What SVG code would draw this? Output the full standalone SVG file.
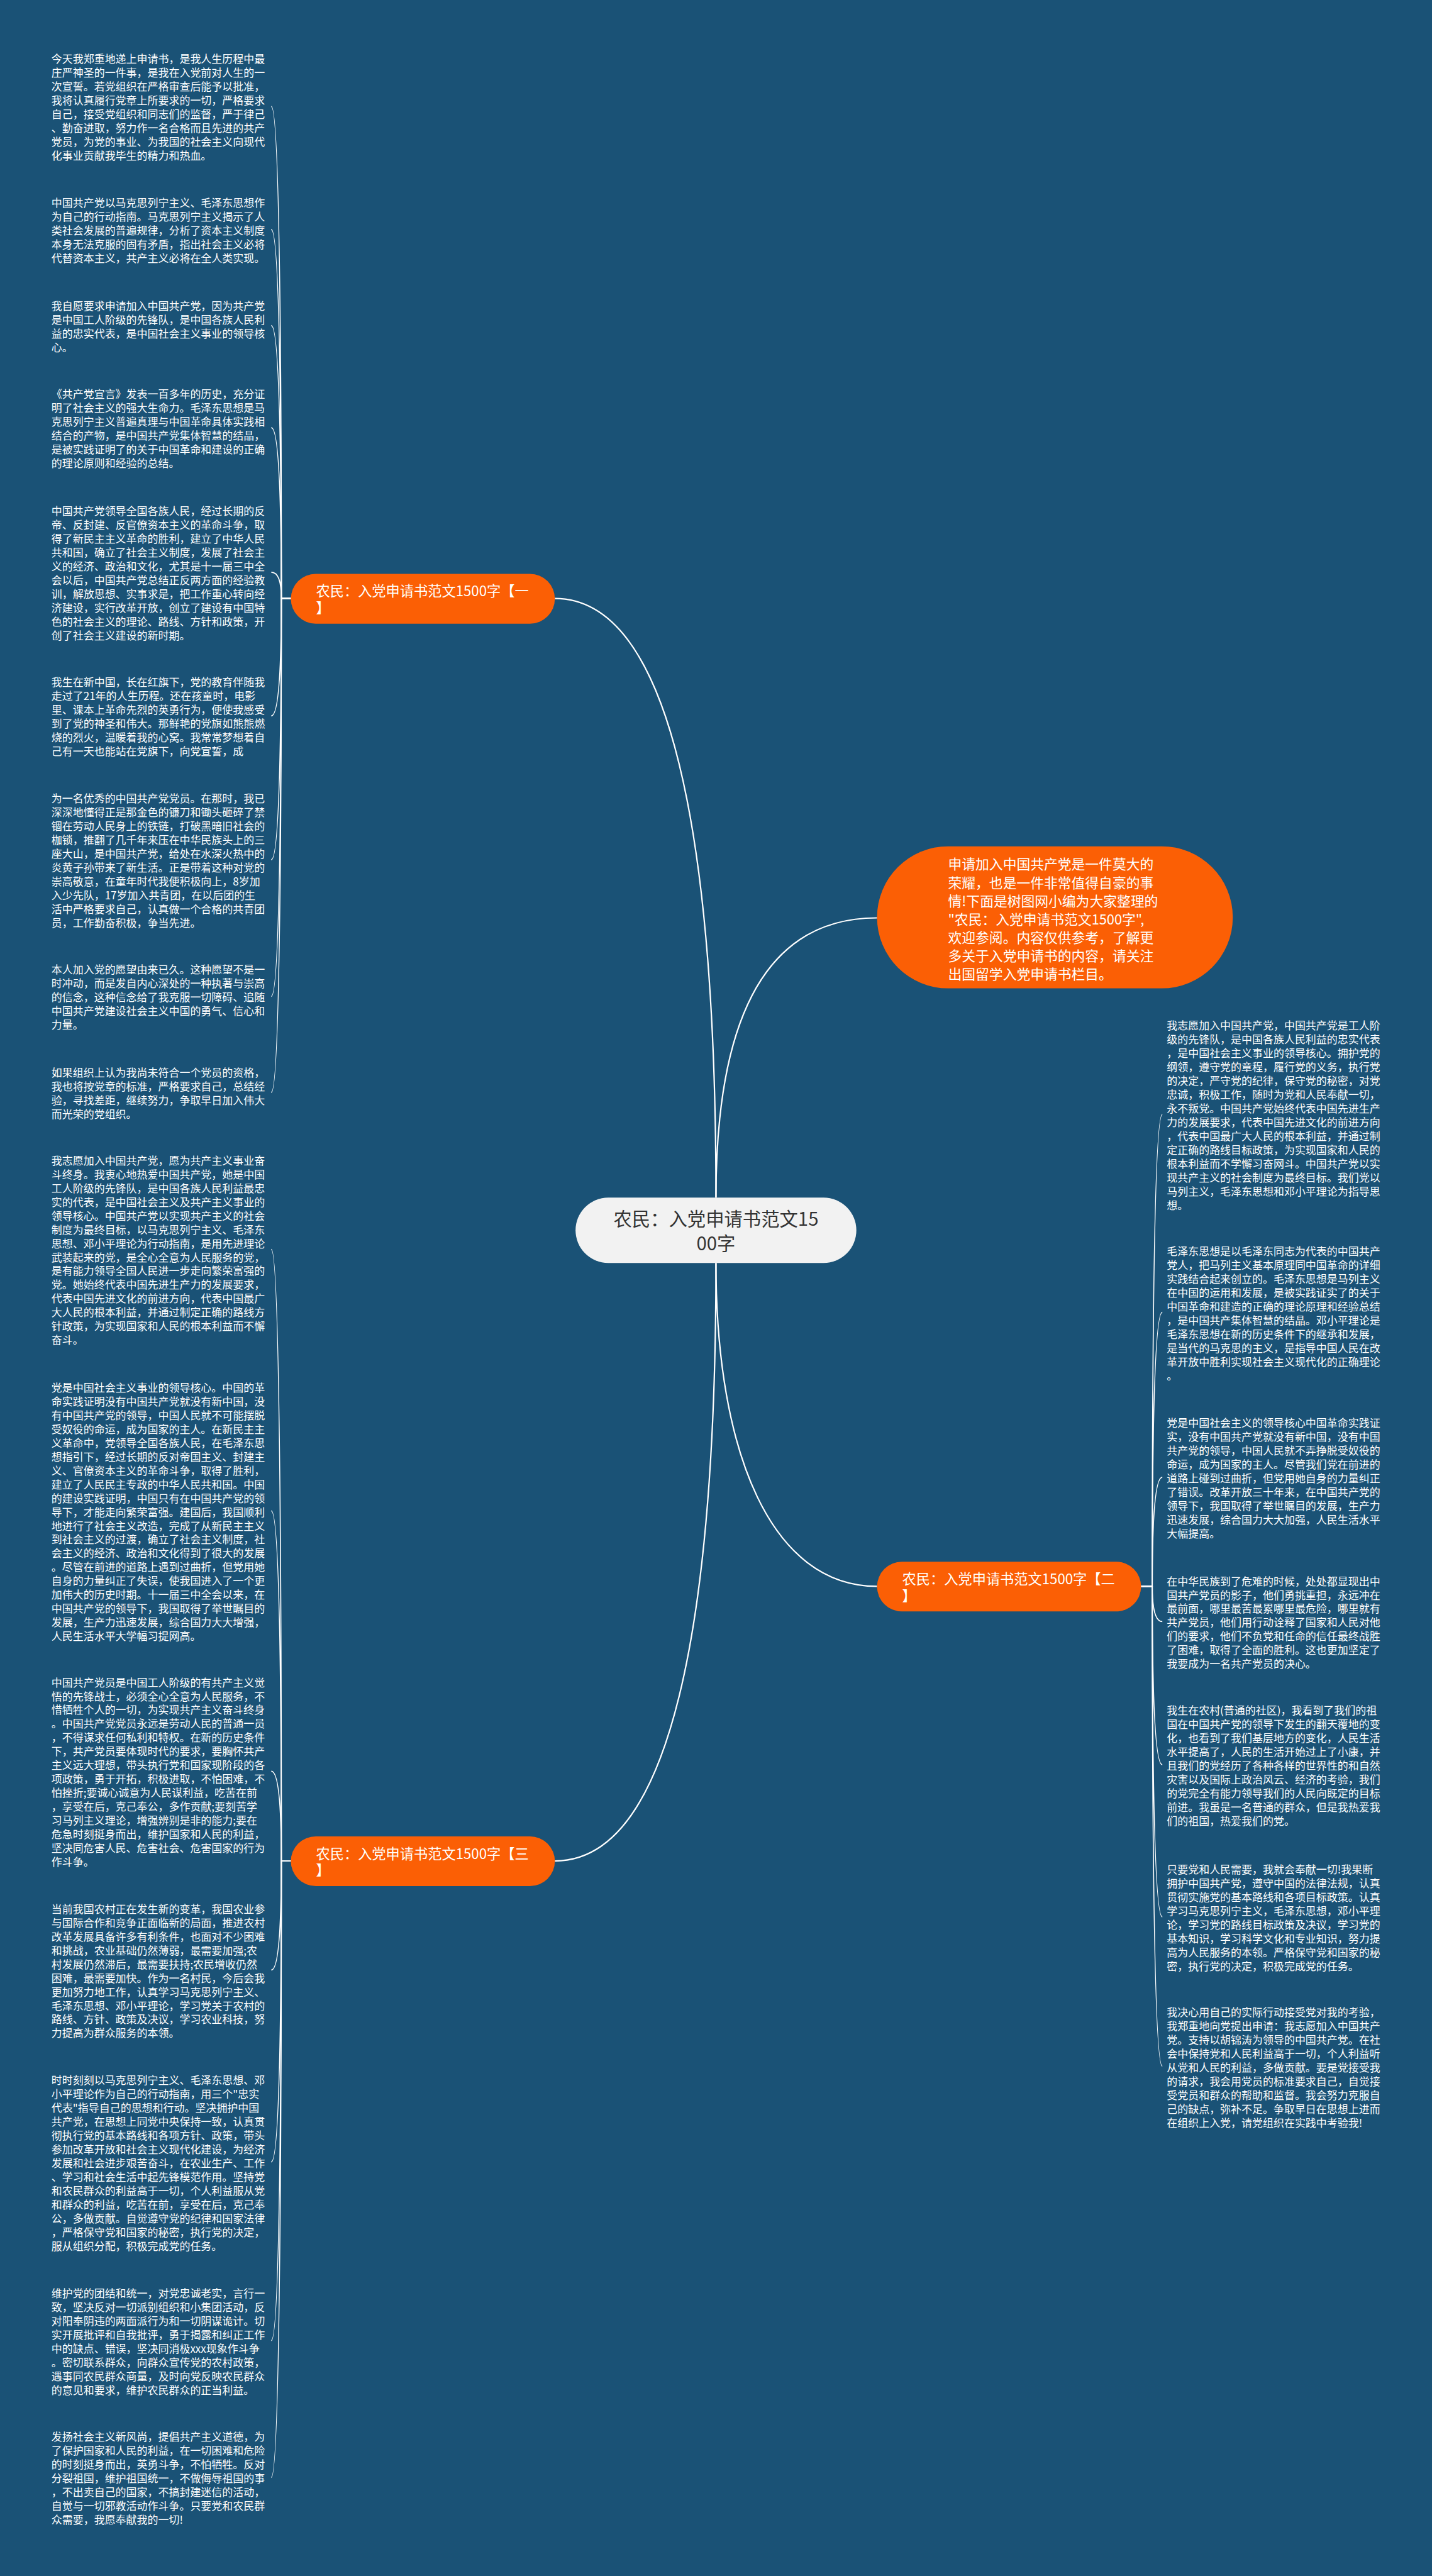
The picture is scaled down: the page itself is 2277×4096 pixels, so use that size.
<svg xmlns="http://www.w3.org/2000/svg" width="2277" height="4096" viewBox="0 0 2277 4096">
<style>
.bg{fill:#1a5276}
.t{font-family:"Noto Sans CJK SC","Microsoft YaHei","Noto Sans",sans-serif;fill:#ffffff;font-size:19.1px;dominant-baseline:central}
.lb{fill:#fb5f05}
.lt{font-family:"Noto Sans CJK SC","Microsoft YaHei","Noto Sans",sans-serif;fill:#ffffff;font-size:25px;dominant-baseline:central}
.bt{font-family:"Noto Sans CJK SC","Microsoft YaHei","Noto Sans",sans-serif;fill:#ffffff;font-size:24.5px;dominant-baseline:central}
.cn{fill:#f2f2f2}
.ct{font-family:"Noto Sans CJK SC","Microsoft YaHei","Noto Sans",sans-serif;fill:#333333;font-size:33px;dominant-baseline:central;text-anchor:middle}
.c{fill:none;stroke:#ffffff;stroke-width:2.5}
.k{fill:none;stroke:#ffffff;stroke-width:2}
</style>
<rect class="bg" x="0" y="0" width="2277" height="4096"/>
<g transform="scale(0.8894)">
<g id="connectors">
<path class="c" d="M1280,2141 C1280,1500 1200,1070 992,1070"/>
<path class="c" d="M1280,2141 C1280,1800 1380,1641 1568,1641"/>
<path class="c" d="M1280,2258 C1280,2600 1380,2836 1568,2836"/>
<path class="c" d="M1280,2258 C1280,2900 1200,3327 992,3327"/>
<path class="k" d="M520,1070 H503 Q503,190.5 485,190.5"/>
<path class="k" d="M520,1070 H503 Q503,410.4 485,410.4"/>
<path class="k" d="M520,1070 H503 Q503,582 485,582"/>
<path class="k" d="M520,1070 H503 Q503,764.8 485,764.8"/>
<path class="k" d="M520,1070 H503 Q503,1023 485,1023"/>
<path class="k" d="M520,1070 H503 Q503,1279.8 485,1279.8"/>
<path class="k" d="M520,1070 H503 Q503,1537 485,1537"/>
<path class="k" d="M520,1070 H503 Q503,1781.4 485,1781.4"/>
<path class="k" d="M520,1070 H503 Q503,1953 485,1953"/>
<path class="k" d="M520,3327 H503 Q503,2233.6 485,2233.6"/>
<path class="k" d="M520,3327 H503 Q503,2701 485,2701"/>
<path class="k" d="M520,3327 H503 Q503,3166.6 485,3166.6"/>
<path class="k" d="M520,3327 H503 Q503,3522 485,3522"/>
<path class="k" d="M520,3327 H503 Q503,3865 485,3865"/>
<path class="k" d="M520,3327 H503 Q503,4184.5 485,4184.5"/>
<path class="k" d="M520,3327 H503 Q503,4429 485,4429"/>
<path class="k" d="M2040,2836 H2060 Q2060,1992.6 2078,1992.6"/>
<path class="k" d="M2040,2836 H2060 Q2060,2346 2078,2346"/>
<path class="k" d="M2040,2836 H2060 Q2060,2641 2078,2641"/>
<path class="k" d="M2040,2836 H2060 Q2060,2899 2078,2899"/>
<path class="k" d="M2040,2836 H2060 Q2060,3155 2078,3155"/>
<path class="k" d="M2040,2836 H2060 Q2060,3427 2078,3427"/>
<path class="k" d="M2040,2836 H2060 Q2060,3694 2078,3694"/>
</g>
<g id="center">
<rect class="cn" x="1029" y="2141" width="502" height="117" rx="58.5"/>
<text class="ct"><tspan x="1280" y="2177">农民：入党申请书范文15</tspan><tspan x="1280" y="2221">00字</tspan></text>
</g>
<g id="summary">
<rect class="lb" x="1568" y="1513" width="636" height="254" rx="127"/>
<text class="bt"><tspan x="1695" y="1543">申请加入中国共产党是一件莫大的</tspan><tspan x="1695" dy="32.8">荣耀，也是一件非常值得自豪的事</tspan><tspan x="1695" dy="32.8">情!下面是树图网小编为大家整理的</tspan><tspan x="1695" dy="32.8">"农民：入党申请书范文1500字",</tspan><tspan x="1695" dy="32.8">欢迎参阅。内容仅供参考，了解更</tspan><tspan x="1695" dy="32.8">多关于入党申请书的内容，请关注</tspan><tspan x="1695" dy="32.8">出国留学入党申请书栏目。</tspan></text>
</g>
<g id="label1">
<rect class="lb" x="520" y="1026" width="472" height="89" rx="44.5"/>
<text class="lt"><tspan x="565" y="1055">农民：入党申请书范文1500字【一</tspan><tspan x="565" y="1085">】</tspan></text>
</g>
<g id="label2">
<rect class="lb" x="1568" y="2792" width="472" height="89" rx="44.5"/>
<text class="lt"><tspan x="1613" y="2821">农民：入党申请书范文1500字【二</tspan><tspan x="1613" y="2851">】</tspan></text>
</g>
<g id="label3">
<rect class="lb" x="520" y="3283" width="472" height="89" rx="44.5"/>
<text class="lt"><tspan x="565" y="3312">农民：入党申请书范文1500字【三</tspan><tspan x="565" y="3342">】</tspan></text>
</g>
<g id="b1"><text class="t"><tspan x="92" y="104">今天我郑重地递上申请书，是我人生历程中最</tspan><tspan x="92" dy="24.7">庄严神圣的一件事，是我在入党前对人生的一</tspan><tspan x="92" dy="24.7">次宣誓。若党组织在严格审查后能予以批准，</tspan><tspan x="92" dy="24.7">我将认真履行党章上所要求的一切，严格要求</tspan><tspan x="92" dy="24.7">自己，接受党组织和同志们的监督，严于律己</tspan><tspan x="92" dy="24.7">、勤奋进取，努力作一名合格而且先进的共产</tspan><tspan x="92" dy="24.7">党员，为党的事业、为我国的社会主义向现代</tspan><tspan x="92" dy="24.7">化事业贡献我毕生的精力和热血。</tspan></text></g>
<g id="b2"><text class="t"><tspan x="92" y="361">中国共产党以马克思列宁主义、毛泽东思想作</tspan><tspan x="92" dy="24.7">为自己的行动指南。马克思列宁主义揭示了人</tspan><tspan x="92" dy="24.7">类社会发展的普遍规律，分析了资本主义制度</tspan><tspan x="92" dy="24.7">本身无法克服的固有矛盾，指出社会主义必将</tspan><tspan x="92" dy="24.7">代替资本主义，共产主义必将在全人类实现。</tspan></text></g>
<g id="b3"><text class="t"><tspan x="92" y="545">我自愿要求申请加入中国共产党，因为共产党</tspan><tspan x="92" dy="24.7">是中国工人阶级的先锋队，是中国各族人民利</tspan><tspan x="92" dy="24.7">益的忠实代表，是中国社会主义事业的领导核</tspan><tspan x="92" dy="24.7">心。</tspan></text></g>
<g id="b4"><text class="t"><tspan x="92" y="703">《共产党宣言》发表一百多年的历史，充分证</tspan><tspan x="92" dy="24.7">明了社会主义的强大生命力。毛泽东思想是马</tspan><tspan x="92" dy="24.7">克思列宁主义普遍真理与中国革命具体实践相</tspan><tspan x="92" dy="24.7">结合的产物，是中国共产党集体智慧的结晶，</tspan><tspan x="92" dy="24.7">是被实践证明了的关于中国革命和建设的正确</tspan><tspan x="92" dy="24.7">的理论原则和经验的总结。</tspan></text></g>
<g id="b5"><text class="t"><tspan x="92" y="912">中国共产党领导全国各族人民，经过长期的反</tspan><tspan x="92" dy="24.7">帝、反封建、反官僚资本主义的革命斗争，取</tspan><tspan x="92" dy="24.7">得了新民主主义革命的胜利，建立了中华人民</tspan><tspan x="92" dy="24.7">共和国，确立了社会主义制度，发展了社会主</tspan><tspan x="92" dy="24.7">义的经济、政治和文化，尤其是十一届三中全</tspan><tspan x="92" dy="24.7">会以后，中国共产党总结正反两方面的经验教</tspan><tspan x="92" dy="24.7">训，解放思想、实事求是，把工作重心转向经</tspan><tspan x="92" dy="24.7">济建设，实行改革开放，创立了建设有中国特</tspan><tspan x="92" dy="24.7">色的社会主义的理论、路线、方针和政策，开</tspan><tspan x="92" dy="24.7">创了社会主义建设的新时期。</tspan></text></g>
<g id="b6"><text class="t"><tspan x="92" y="1218">我生在新中国，长在红旗下，党的教育伴随我</tspan><tspan x="92" dy="24.7">走过了21年的人生历程。还在孩童时，电影</tspan><tspan x="92" dy="24.7">里、课本上革命先烈的英勇行为，便使我感受</tspan><tspan x="92" dy="24.7">到了党的神圣和伟大。那鲜艳的党旗如熊熊燃</tspan><tspan x="92" dy="24.7">烧的烈火，温暖着我的心窝。我常常梦想着自</tspan><tspan x="92" dy="24.7">己有一天也能站在党旗下，向党宣誓，成</tspan></text></g>
<g id="b7"><text class="t"><tspan x="92" y="1426">为一名优秀的中国共产党党员。在那时，我已</tspan><tspan x="92" dy="24.7">深深地懂得正是那金色的镰刀和锄头砸碎了禁</tspan><tspan x="92" dy="24.7">锢在劳动人民身上的铁链，打破黑暗旧社会的</tspan><tspan x="92" dy="24.7">枷锁，推翻了几千年来压在中华民族头上的三</tspan><tspan x="92" dy="24.7">座大山，是中国共产党，给处在水深火热中的</tspan><tspan x="92" dy="24.7">炎黄子孙带来了新生活。正是带着这种对党的</tspan><tspan x="92" dy="24.7">崇高敬意，在童年时代我便积极向上，8岁加</tspan><tspan x="92" dy="24.7">入少先队，17岁加入共青团，在以后团的生</tspan><tspan x="92" dy="24.7">活中严格要求自己，认真做一个合格的共青团</tspan><tspan x="92" dy="24.7">员，工作勤奋积极，争当先进。</tspan></text></g>
<g id="b8"><text class="t"><tspan x="92" y="1732">本人加入党的愿望由来已久。这种愿望不是一</tspan><tspan x="92" dy="24.7">时冲动，而是发自内心深处的一种执著与崇高</tspan><tspan x="92" dy="24.7">的信念，这种信念给了我克服一切障碍、追随</tspan><tspan x="92" dy="24.7">中国共产党建设社会主义中国的勇气、信心和</tspan><tspan x="92" dy="24.7">力量。</tspan></text></g>
<g id="b9"><text class="t"><tspan x="92" y="1916">如果组织上认为我尚未符合一个党员的资格，</tspan><tspan x="92" dy="24.7">我也将按党章的标准，严格要求自己，总结经</tspan><tspan x="92" dy="24.7">验，寻找差距，继续努力，争取早日加入伟大</tspan><tspan x="92" dy="24.7">而光荣的党组织。</tspan></text></g>
<g id="b10"><text class="t"><tspan x="92" y="2073">我志愿加入中国共产党，愿为共产主义事业奋</tspan><tspan x="92" dy="24.7">斗终身。我衷心地热爱中国共产党，她是中国</tspan><tspan x="92" dy="24.7">工人阶级的先锋队，是中国各族人民利益最忠</tspan><tspan x="92" dy="24.7">实的代表，是中国社会主义及共产主义事业的</tspan><tspan x="92" dy="24.7">领导核心。中国共产党以实现共产主义的社会</tspan><tspan x="92" dy="24.7">制度为最终目标，以马克思列宁主义、毛泽东</tspan><tspan x="92" dy="24.7">思想、邓小平理论为行动指南，是用先进理论</tspan><tspan x="92" dy="24.7">武装起来的党，是全心全意为人民服务的党，</tspan><tspan x="92" dy="24.7">是有能力领导全国人民进一步走向繁荣富强的</tspan><tspan x="92" dy="24.7">党。她始终代表中国先进生产力的发展要求，</tspan><tspan x="92" dy="24.7">代表中国先进文化的前进方向，代表中国最广</tspan><tspan x="92" dy="24.7">大人民的根本利益，并通过制定正确的路线方</tspan><tspan x="92" dy="24.7">针政策，为实现国家和人民的根本利益而不懈</tspan><tspan x="92" dy="24.7">奋斗。</tspan></text></g>
<g id="b11"><text class="t"><tspan x="92" y="2479">党是中国社会主义事业的领导核心。中国的革</tspan><tspan x="92" dy="24.7">命实践证明没有中国共产党就没有新中国，没</tspan><tspan x="92" dy="24.7">有中国共产党的领导，中国人民就不可能摆脱</tspan><tspan x="92" dy="24.7">受奴役的命运，成为国家的主人。在新民主主</tspan><tspan x="92" dy="24.7">义革命中，党领导全国各族人民，在毛泽东思</tspan><tspan x="92" dy="24.7">想指引下，经过长期的反对帝国主义、封建主</tspan><tspan x="92" dy="24.7">义、官僚资本主义的革命斗争，取得了胜利，</tspan><tspan x="92" dy="24.7">建立了人民民主专政的中华人民共和国。中国</tspan><tspan x="92" dy="24.7">的建设实践证明，中国只有在中国共产党的领</tspan><tspan x="92" dy="24.7">导下，才能走向繁荣富强。建国后，我国顺利</tspan><tspan x="92" dy="24.7">地进行了社会主义改造，完成了从新民主主义</tspan><tspan x="92" dy="24.7">到社会主义的过渡，确立了社会主义制度，社</tspan><tspan x="92" dy="24.7">会主义的经济、政治和文化得到了很大的发展</tspan><tspan x="92" dy="24.7">。尽管在前进的道路上遇到过曲折，但党用她</tspan><tspan x="92" dy="24.7">自身的力量纠正了失误，使我国进入了一个更</tspan><tspan x="92" dy="24.7">加伟大的历史时期。十一届三中全会以来，在</tspan><tspan x="92" dy="24.7">中国共产党的领导下，我国取得了举世瞩目的</tspan><tspan x="92" dy="24.7">发展，生产力迅速发展，综合国力大大增强，</tspan><tspan x="92" dy="24.7">人民生活水平大学幅习提网高。</tspan></text></g>
<g id="b12"><text class="t"><tspan x="92" y="3006">中国共产党员是中国工人阶级的有共产主义觉</tspan><tspan x="92" dy="24.7">悟的先锋战士，必须全心全意为人民服务，不</tspan><tspan x="92" dy="24.7">惜牺牲个人的一切，为实现共产主义奋斗终身</tspan><tspan x="92" dy="24.7">。中国共产党党员永远是劳动人民的普通一员</tspan><tspan x="92" dy="24.7">，不得谋求任何私利和特权。在新的历史条件</tspan><tspan x="92" dy="24.7">下，共产党员要体现时代的要求，要胸怀共产</tspan><tspan x="92" dy="24.7">主义远大理想，带头执行党和国家现阶段的各</tspan><tspan x="92" dy="24.7">项政策，勇于开拓，积极进取，不怕困难，不</tspan><tspan x="92" dy="24.7">怕挫折;要诚心诚意为人民谋利益，吃苦在前</tspan><tspan x="92" dy="24.7">，享受在后，克己奉公，多作贡献;要刻苦学</tspan><tspan x="92" dy="24.7">习马列主义理论，增强辨别是非的能力;要在</tspan><tspan x="92" dy="24.7">危急时刻挺身而出，维护国家和人民的利益，</tspan><tspan x="92" dy="24.7">坚决同危害人民、危害社会、危害国家的行为</tspan><tspan x="92" dy="24.7">作斗争。</tspan></text></g>
<g id="b13"><text class="t"><tspan x="92" y="3411">当前我国农村正在发生新的变革，我国农业参</tspan><tspan x="92" dy="24.7">与国际合作和竞争正面临新的局面，推进农村</tspan><tspan x="92" dy="24.7">改革发展具备许多有利条件，也面对不少困难</tspan><tspan x="92" dy="24.7">和挑战，农业基础仍然薄弱，最需要加强;农</tspan><tspan x="92" dy="24.7">村发展仍然滞后，最需要扶持;农民增收仍然</tspan><tspan x="92" dy="24.7">困难，最需要加快。作为一名村民，今后会我</tspan><tspan x="92" dy="24.7">更加努力地工作，认真学习马克思列宁主义、</tspan><tspan x="92" dy="24.7">毛泽东思想、邓小平理论，学习党关于农村的</tspan><tspan x="92" dy="24.7">路线、方针、政策及决议，学习农业科技，努</tspan><tspan x="92" dy="24.7">力提高为群众服务的本领。</tspan></text></g>
<g id="b14"><text class="t"><tspan x="92" y="3717">时时刻刻以马克思列宁主义、毛泽东思想、邓</tspan><tspan x="92" dy="24.7">小平理论作为自己的行动指南，用三个"忠实</tspan><tspan x="92" dy="24.7">代表"指导自己的思想和行动。坚决拥护中国</tspan><tspan x="92" dy="24.7">共产党，在思想上同党中央保持一致，认真贯</tspan><tspan x="92" dy="24.7">彻执行党的基本路线和各项方针、政策，带头</tspan><tspan x="92" dy="24.7">参加改革开放和社会主义现代化建设，为经济</tspan><tspan x="92" dy="24.7">发展和社会进步艰苦奋斗，在农业生产、工作</tspan><tspan x="92" dy="24.7">、学习和社会生活中起先锋模范作用。坚持党</tspan><tspan x="92" dy="24.7">和农民群众的利益高于一切，个人利益服从党</tspan><tspan x="92" dy="24.7">和群众的利益，吃苦在前，享受在后，克己奉</tspan><tspan x="92" dy="24.7">公，多做贡献。自觉遵守党的纪律和国家法律</tspan><tspan x="92" dy="24.7">，严格保守党和国家的秘密，执行党的决定，</tspan><tspan x="92" dy="24.7">服从组织分配，积极完成党的任务。</tspan></text></g>
<g id="b15"><text class="t"><tspan x="92" y="4098">维护党的团结和统一，对党忠诚老实，言行一</tspan><tspan x="92" dy="24.7">致，坚决反对一切派别组织和小集团活动，反</tspan><tspan x="92" dy="24.7">对阳奉阴违的两面派行为和一切阴谋诡计。切</tspan><tspan x="92" dy="24.7">实开展批评和自我批评，勇于揭露和纠正工作</tspan><tspan x="92" dy="24.7">中的缺点、错误，坚决同消极xxx现象作斗争</tspan><tspan x="92" dy="24.7">。密切联系群众，向群众宣传党的农村政策，</tspan><tspan x="92" dy="24.7">遇事同农民群众商量，及时向党反映农民群众</tspan><tspan x="92" dy="24.7">的意见和要求，维护农民群众的正当利益。</tspan></text></g>
<g id="b16"><text class="t"><tspan x="92" y="4355">发扬社会主义新风尚，提倡共产主义道德，为</tspan><tspan x="92" dy="24.7">了保护国家和人民的利益，在一切困难和危险</tspan><tspan x="92" dy="24.7">的时刻挺身而出，英勇斗争，不怕牺牲。反对</tspan><tspan x="92" dy="24.7">分裂祖国，维护祖国统一，不做侮辱祖国的事</tspan><tspan x="92" dy="24.7">，不出卖自己的国家，不搞封建迷信的活动，</tspan><tspan x="92" dy="24.7">自觉与一切邪教活动作斗争。只要党和农民群</tspan><tspan x="92" dy="24.7">众需要，我愿奉献我的一切!</tspan></text></g>
<g id="r1"><text class="t"><tspan x="2086" y="1832">我志愿加入中国共产党，中国共产党是工人阶</tspan><tspan x="2086" dy="24.7">级的先锋队，是中国各族人民利益的忠实代表</tspan><tspan x="2086" dy="24.7">，是中国社会主义事业的领导核心。拥护党的</tspan><tspan x="2086" dy="24.7">纲领，遵守党的章程，履行党的义务，执行党</tspan><tspan x="2086" dy="24.7">的决定，严守党的纪律，保守党的秘密，对党</tspan><tspan x="2086" dy="24.7">忠诚，积极工作，随时为党和人民奉献一切，</tspan><tspan x="2086" dy="24.7">永不叛党。中国共产党始终代表中国先进生产</tspan><tspan x="2086" dy="24.7">力的发展要求，代表中国先进文化的前进方向</tspan><tspan x="2086" dy="24.7">，代表中国最广大人民的根本利益，并通过制</tspan><tspan x="2086" dy="24.7">定正确的路线目标政策，为实现国家和人民的</tspan><tspan x="2086" dy="24.7">根本利益而不学懈习奋网斗。中国共产党以实</tspan><tspan x="2086" dy="24.7">现共产主义的社会制度为最终目标。我们党以</tspan><tspan x="2086" dy="24.7">马列主义，毛泽东思想和邓小平理论为指导思</tspan><tspan x="2086" dy="24.7">想。</tspan></text></g>
<g id="r2"><text class="t"><tspan x="2086" y="2235">毛泽东思想是以毛泽东同志为代表的中国共产</tspan><tspan x="2086" dy="24.7">党人，把马列主义基本原理同中国革命的详细</tspan><tspan x="2086" dy="24.7">实践结合起来创立的。毛泽东思想是马列主义</tspan><tspan x="2086" dy="24.7">在中国的运用和发展，是被实践证实了的关于</tspan><tspan x="2086" dy="24.7">中国革命和建造的正确的理论原理和经验总结</tspan><tspan x="2086" dy="24.7">，是中国共产集体智慧的结晶。邓小平理论是</tspan><tspan x="2086" dy="24.7">毛泽东思想在新的历史条件下的继承和发展，</tspan><tspan x="2086" dy="24.7">是当代的马克思的主义，是指导中国人民在改</tspan><tspan x="2086" dy="24.7">革开放中胜利实现社会主义现代化的正确理论</tspan><tspan x="2086" dy="24.7">。</tspan></text></g>
<g id="r3"><text class="t"><tspan x="2086" y="2542">党是中国社会主义的领导核心中国革命实践证</tspan><tspan x="2086" dy="24.7">实，没有中国共产党就没有新中国，没有中国</tspan><tspan x="2086" dy="24.7">共产党的领导，中国人民就不弄挣脱受奴役的</tspan><tspan x="2086" dy="24.7">命运，成为国家的主人。尽管我们党在前进的</tspan><tspan x="2086" dy="24.7">道路上碰到过曲折，但党用她自身的力量纠正</tspan><tspan x="2086" dy="24.7">了错误。改革开放三十年来，在中国共产党的</tspan><tspan x="2086" dy="24.7">领导下，我国取得了举世瞩目的发展，生产力</tspan><tspan x="2086" dy="24.7">迅速发展，综合国力大大加强，人民生活水平</tspan><tspan x="2086" dy="24.7">大幅提高。</tspan></text></g>
<g id="r4"><text class="t"><tspan x="2086" y="2825">在中华民族到了危难的时候，处处都显现出中</tspan><tspan x="2086" dy="24.7">国共产党员的影子，他们勇挑重担，永远冲在</tspan><tspan x="2086" dy="24.7">最前面，哪里最苦最累哪里最危险，哪里就有</tspan><tspan x="2086" dy="24.7">共产党员，他们用行动诠释了国家和人民对他</tspan><tspan x="2086" dy="24.7">们的要求，他们不负党和任命的信任最终战胜</tspan><tspan x="2086" dy="24.7">了困难，取得了全面的胜利。这也更加坚定了</tspan><tspan x="2086" dy="24.7">我要成为一名共产党员的决心。</tspan></text></g>
<g id="r5"><text class="t"><tspan x="2086" y="3056.5">我生在农村(普通的社区)，我看到了我们的祖</tspan><tspan x="2086" dy="24.7">国在中国共产党的领导下发生的翻天覆地的变</tspan><tspan x="2086" dy="24.7">化，也看到了我们基层地方的变化，人民生活</tspan><tspan x="2086" dy="24.7">水平提高了，人民的生活开始过上了小康，并</tspan><tspan x="2086" dy="24.7">且我们的党经历了各种各样的世界性的和自然</tspan><tspan x="2086" dy="24.7">灾害以及国际上政治风云、经济的考验，我们</tspan><tspan x="2086" dy="24.7">的党完全有能力领导我们的人民向既定的目标</tspan><tspan x="2086" dy="24.7">前进。我虽是一名普通的群众，但是我热爱我</tspan><tspan x="2086" dy="24.7">们的祖国，热爱我们的党。</tspan></text></g>
<g id="r6"><text class="t"><tspan x="2086" y="3340.4">只要党和人民需要，我就会奉献一切!我果断</tspan><tspan x="2086" dy="24.7">拥护中国共产党，遵守中国的法律法规，认真</tspan><tspan x="2086" dy="24.7">贯彻实施党的基本路线和各项目标政策。认真</tspan><tspan x="2086" dy="24.7">学习马克思列宁主义，毛泽东思想，邓小平理</tspan><tspan x="2086" dy="24.7">论，学习党的路线目标政策及决议，学习党的</tspan><tspan x="2086" dy="24.7">基本知识，学习科学文化和专业知识，努力提</tspan><tspan x="2086" dy="24.7">高为人民服务的本领。严格保守党和国家的秘</tspan><tspan x="2086" dy="24.7">密，执行党的决定，积极完成党的任务。</tspan></text></g>
<g id="r7"><text class="t"><tspan x="2086" y="3595.5">我决心用自己的实际行动接受党对我的考验，</tspan><tspan x="2086" dy="24.7">我郑重地向党提出申请：我志愿加入中国共产</tspan><tspan x="2086" dy="24.7">党。支持以胡锦涛为领导的中国共产党。在社</tspan><tspan x="2086" dy="24.7">会中保持党和人民利益高于一切，个人利益听</tspan><tspan x="2086" dy="24.7">从党和人民的利益，多做贡献。要是党接受我</tspan><tspan x="2086" dy="24.7">的请求，我会用党员的标准要求自己，自觉接</tspan><tspan x="2086" dy="24.7">受党员和群众的帮助和监督。我会努力克服自</tspan><tspan x="2086" dy="24.7">己的缺点，弥补不足。争取早日在思想上进而</tspan><tspan x="2086" dy="24.7">在组织上入党，请党组织在实践中考验我!</tspan></text></g>
</g>
</svg>
